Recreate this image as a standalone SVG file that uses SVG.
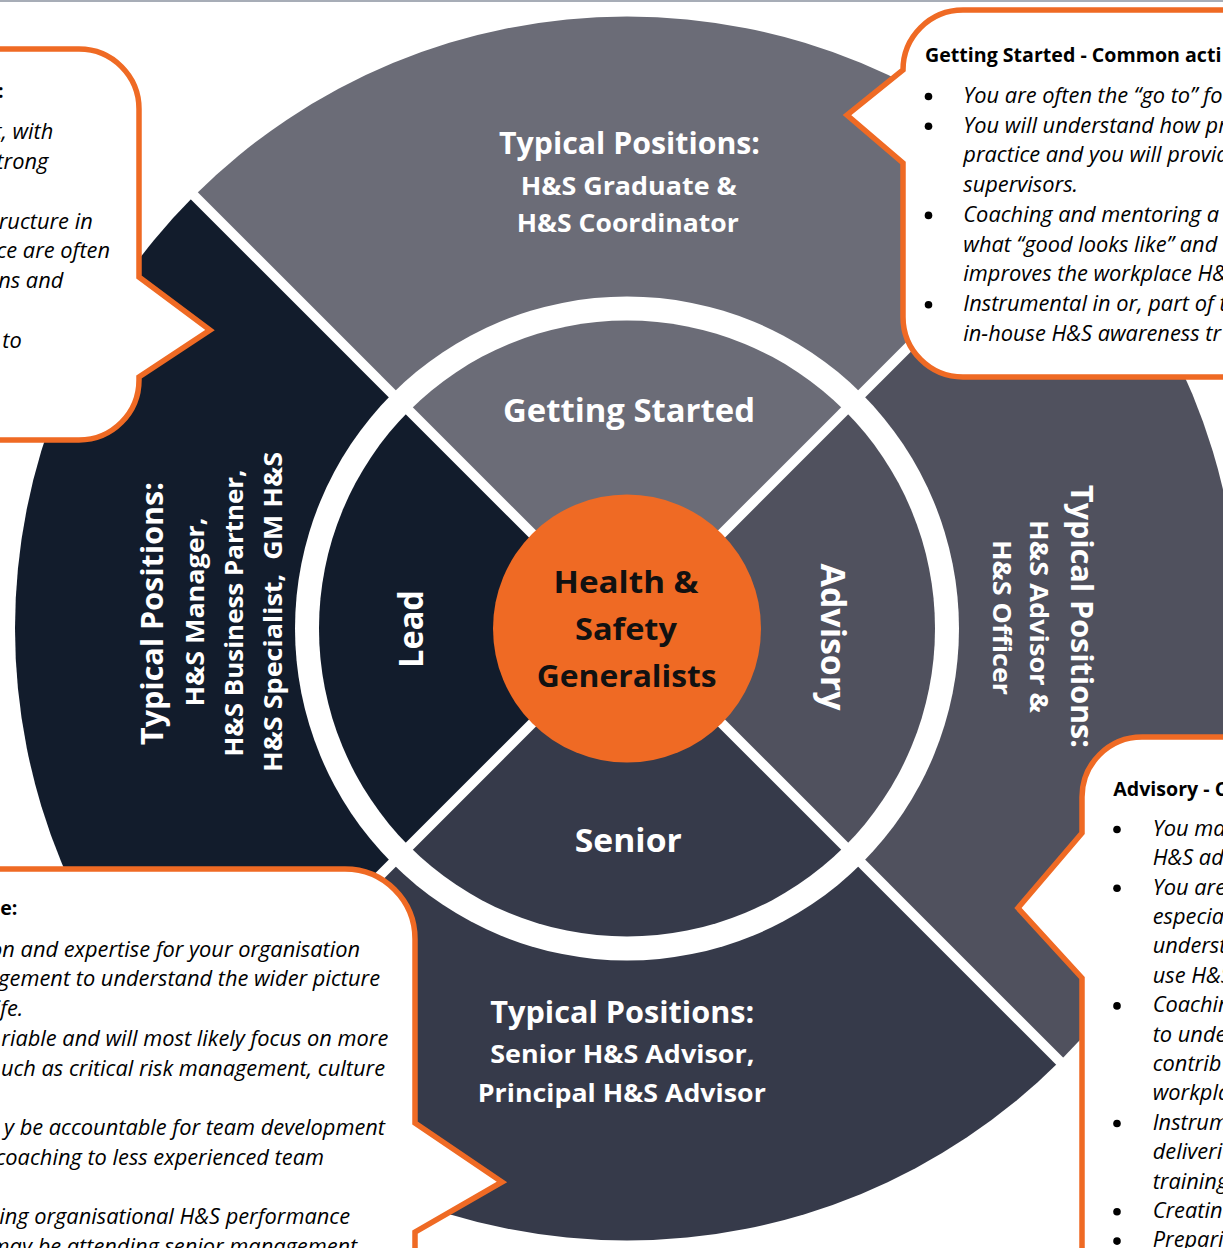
<svg xmlns="http://www.w3.org/2000/svg" width="1223" height="1248" viewBox="0 0 1223 1248">
<style>
.lbl{font-family:'Open Sans','Noto Sans',sans-serif;font-weight:700;fill:#ffffff;text-anchor:middle}
.ctr{font-family:'Open Sans','Noto Sans',sans-serif;font-weight:700;fill:#111111;text-anchor:middle;font-size:30px}
.hdr{font-family:'Open Sans','Noto Sans',sans-serif;font-weight:700;font-size:19.6px;fill:#000000}
.body{font-family:'Open Sans','Noto Sans',sans-serif;font-style:italic;font-size:21.8px;fill:#000000}
.end{text-anchor:end}
.bubble{fill:#ffffff;stroke:#EF6A24;stroke-width:5.5;stroke-linejoin:miter}
.sep{stroke:#ffffff;stroke-width:10}
.dot{fill:#000000}
</style>
<rect x="0" y="0" width="1223" height="1248" fill="#ffffff"/>
<rect x="0" y="0" width="1223" height="2" fill="#A7ADB7"/>

<g id="wheel">
  <g id="outer-getting-started"><path d="M627,628.5 L194.25,195.75 A612,612 0 0 1 1059.75,195.75 Z" fill="#6B6C77"/></g>
  <g id="outer-advisory"><path d="M627,628.5 L1059.75,195.75 A612,612 0 0 1 1059.75,1061.25 Z" fill="#50515E"/></g>
  <g id="outer-senior"><path d="M627,628.5 L1059.75,1061.25 A612,612 0 0 1 194.25,1061.25 Z" fill="#363A4A"/></g>
  <g id="outer-lead"><path d="M627,628.5 L194.25,1061.25 A612,612 0 0 1 194.25,195.75 Z" fill="#121C2C"/></g>
  <circle cx="627" cy="628.5" r="332" fill="#ffffff"/>
  <g id="inner-getting-started"><path d="M627,628.5 L409.21,410.71 A308,308 0 0 1 844.79,410.71 Z" fill="#6B6C77"/></g>
  <g id="inner-advisory"><path d="M627,628.5 L844.79,410.71 A308,308 0 0 1 844.79,846.29 Z" fill="#50515E"/></g>
  <g id="inner-senior"><path d="M627,628.5 L844.79,846.29 A308,308 0 0 1 409.21,846.29 Z" fill="#363A4A"/></g>
  <g id="inner-lead"><path d="M627,628.5 L409.21,846.29 A308,308 0 0 1 409.21,410.71 Z" fill="#121C2C"/></g>
  <line class="sep" x1="180" y1="181.5" x2="1074" y2="1075.5"/>
  <line class="sep" x1="1074" y1="181.5" x2="180" y2="1075.5"/>
</g>

<g id="connectors"></g>

<g id="center-node">
  <circle cx="627" cy="628.5" r="134" fill="#EF6A24"/>
  <text class="ctr" x="626" y="593.3" textLength="145" lengthAdjust="spacingAndGlyphs">Health &amp;</text>
  <text class="ctr" x="626" y="640" textLength="102" lengthAdjust="spacingAndGlyphs">Safety</text>
  <text class="ctr" x="626.7" y="687.3" textLength="180" lengthAdjust="spacingAndGlyphs">Generalists</text>
</g>

<g id="label-getting-started">
  <text class="lbl" x="629" y="421.7" font-size="33" textLength="252" lengthAdjust="spacingAndGlyphs">Getting Started</text>
</g>
<g id="label-senior">
  <text class="lbl" x="628.3" y="851.7" font-size="33" textLength="107" lengthAdjust="spacingAndGlyphs">Senior</text>
</g>
<g id="label-lead">
  <text class="lbl" transform="translate(423,629) rotate(-90)" x="0" y="0" font-size="34" textLength="78" lengthAdjust="spacingAndGlyphs">Lead</text>
</g>
<g id="label-advisory">
  <text class="lbl" transform="translate(821,637) rotate(90)" x="0" y="0" font-size="34" textLength="147" lengthAdjust="spacingAndGlyphs">Advisory</text>
</g>

<g id="positions-top">
  <text class="lbl" x="629.5" y="154" font-size="29.5" textLength="261" lengthAdjust="spacingAndGlyphs">Typical Positions:</text>
  <text class="lbl" x="628.7" y="195" font-size="24.5" textLength="216" lengthAdjust="spacingAndGlyphs">H&amp;S Graduate &amp;</text>
  <text class="lbl" x="627.8" y="231.7" font-size="24.5" textLength="222" lengthAdjust="spacingAndGlyphs">H&amp;S Coordinator</text>
</g>
<g id="positions-bottom">
  <text class="lbl" x="622.3" y="1023" font-size="30" textLength="264" lengthAdjust="spacingAndGlyphs">Typical Positions:</text>
  <text class="lbl" x="622.3" y="1063" font-size="25" textLength="264" lengthAdjust="spacingAndGlyphs">Senior H&amp;S Advisor,</text>
  <text class="lbl" x="621.8" y="1102" font-size="25" textLength="288" lengthAdjust="spacingAndGlyphs">Principal H&amp;S Advisor</text>
</g>
<g id="positions-left">
  <text class="lbl" transform="translate(162.5,613.5) rotate(-90)" font-size="29.5" textLength="263" lengthAdjust="spacingAndGlyphs">Typical Positions:</text>
  <text class="lbl" transform="translate(203.5,612) rotate(-90)" font-size="25" textLength="189" lengthAdjust="spacingAndGlyphs">H&amp;S Manager,</text>
  <text class="lbl" transform="translate(243,613) rotate(-90)" font-size="25" textLength="287" lengthAdjust="spacingAndGlyphs">H&amp;S Business Partner,</text>
  <text class="lbl" transform="translate(282,612) rotate(-90)" font-size="25" textLength="320" lengthAdjust="spacingAndGlyphs">H&amp;S Specialist,&#160; GM H&amp;S</text>
</g>
<g id="positions-right">
  <text class="lbl" transform="translate(1071,616.5) rotate(90)" font-size="29.5" textLength="263" lengthAdjust="spacingAndGlyphs">Typical Positions:</text>
  <text class="lbl" transform="translate(1030,616.5) rotate(90)" font-size="25" textLength="193" lengthAdjust="spacingAndGlyphs">H&amp;S Advisor &amp;</text>
  <text class="lbl" transform="translate(993,617.5) rotate(90)" font-size="25" textLength="155" lengthAdjust="spacingAndGlyphs">H&amp;S Officer</text>
</g>

<g id="bubble-lead">
  <path class="bubble" d="M-10,49 H79 A60,60 0 0 1 139,109 V277 L210,330 L139,377 V380 A60,60 0 0 1 79,440 H-10 Z"/>
  <text class="hdr end" x="3.5" y="98.3">:</text>
  <text class="body end" x="53.3" y="139.3">t, with</text>
  <text class="body end" x="48.3" y="169">trong</text>
  <text class="body end" x="92.7" y="228.5">ructure in</text>
  <text class="body end" x="110" y="258.3">ce are often</text>
  <text class="body end" x="63.3" y="288">ns and</text>
  <text class="body end" x="21.7" y="347.5">to</text>
</g>

<g id="bubble-getting-started">
  <path class="bubble" d="M1240,10 H963 A60,60 0 0 0 903,70 L847,115 L903,163 V317 A60,60 0 0 0 963,377 H1240 Z"/>
  <text class="hdr" x="925" y="61.7">Getting Started - Common acti</text>
  <circle class="dot" cx="928.5" cy="96.5" r="3.8"/>
  <circle class="dot" cx="928.5" cy="126.2" r="3.8"/>
  <circle class="dot" cx="928.5" cy="215.4" r="3.8"/>
  <circle class="dot" cx="928.5" cy="304.7" r="3.8"/>
  <text class="body" x="963.3" y="102.7">You are often the “go to” fo</text>
  <text class="body" x="963.3" y="132.5">You will understand how pr</text>
  <text class="body" x="963.3" y="162.2">practice and you will provid</text>
  <text class="body" x="963.3" y="192">supervisors.</text>
  <text class="body" x="963.3" y="221.7">Coaching and mentoring a</text>
  <text class="body" x="963.3" y="251.5">what “good looks like” and</text>
  <text class="body" x="963.3" y="281.2">improves the workplace H&amp;</text>
  <text class="body" x="963.3" y="311">Instrumental in or, part of t</text>
  <text class="body" x="963.3" y="340.7">in-house H&amp;S awareness tr</text>
</g>

<g id="bubble-advisory">
  <path class="bubble" d="M1240,737 H1142 A60,60 0 0 0 1082,797 V833 L1018,908 L1082,978 V1260 H1240 Z"/>
  <text class="hdr" x="1113.3" y="796">Advisory - C</text>
  <circle class="dot" cx="1117" cy="829.5" r="3.8"/>
  <circle class="dot" cx="1117" cy="888.3" r="3.8"/>
  <circle class="dot" cx="1117" cy="1005.9" r="3.8"/>
  <circle class="dot" cx="1117" cy="1123.5" r="3.8"/>
  <circle class="dot" cx="1117" cy="1211.7" r="3.8"/>
  <circle class="dot" cx="1117" cy="1241.1" r="3.8"/>
  <text class="body" x="1152.7" y="835.7">You ma</text>
  <text class="body" x="1152.7" y="865.1">H&amp;S ad</text>
  <text class="body" x="1152.7" y="894.5">You are</text>
  <text class="body" x="1152.7" y="923.9">especia</text>
  <text class="body" x="1152.7" y="953.3">underst</text>
  <text class="body" x="1152.7" y="982.7">use H&amp;S</text>
  <text class="body" x="1152.7" y="1012.1">Coachin</text>
  <text class="body" x="1152.7" y="1041.5">to unde</text>
  <text class="body" x="1152.7" y="1070.9">contrib</text>
  <text class="body" x="1152.7" y="1100.3">workpla</text>
  <text class="body" x="1152.7" y="1129.7">Instrum</text>
  <text class="body" x="1152.7" y="1159.1">deliveri</text>
  <text class="body" x="1152.7" y="1188.5">training</text>
  <text class="body" x="1152.7" y="1217.9">Creatin</text>
  <text class="body" x="1152.7" y="1247.3">Preparin</text>
</g>

<g id="bubble-senior">
  <path class="bubble" d="M-10,869 H345 A70,70 0 0 1 415,939 V1123 L502,1182 L415,1232 V1260 H-10 Z"/>
  <text class="hdr end" x="17.3" y="915">e:</text>
  <text class="body end" x="360" y="956.7">on and expertise for your organisation</text>
  <text class="body end" x="380" y="986.4">gement to understand the wider picture</text>
  <text class="body end" x="23.3" y="1016">ife.</text>
  <text class="body end" x="388.3" y="1045.9">riable and will most likely focus on more</text>
  <text class="body end" x="385" y="1075.6">uch as critical risk management, culture</text>
  <text class="body end" x="385" y="1135">y be accountable for team development</text>
  <text class="body end" x="324" y="1164.9">coaching to less experienced team</text>
  <text class="body end" x="350" y="1224.4">ing organisational H&amp;S performance</text>
  <text class="body end" x="357.3" y="1254">may be attending senior management</text>
</g>
</svg>
